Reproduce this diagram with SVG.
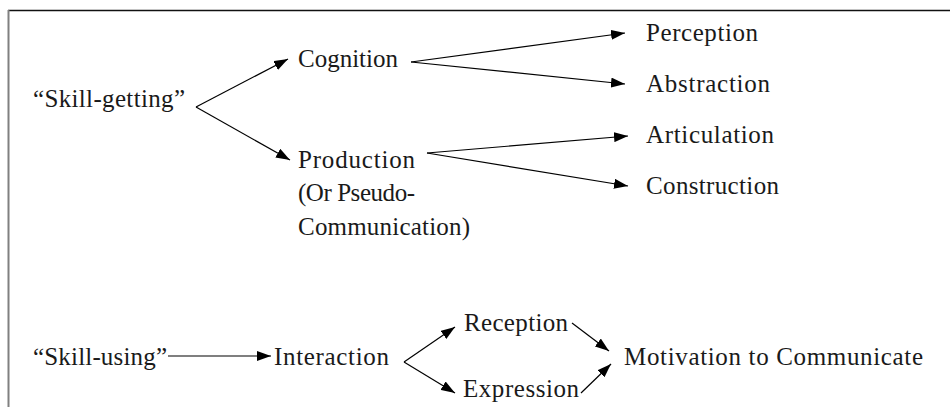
<svg xmlns="http://www.w3.org/2000/svg" width="950" height="407" viewBox="0 0 950 407">
<defs>
<style>
.t text{font-family:"Times New Roman",Tinos,"Liberation Serif",serif;font-size:25px;fill:#1a1a1a}
.c{stroke:#000;stroke-width:1.2;fill:none;marker-end:url(#ah)}
</style>
<marker id="ah" viewBox="0 0 14 10" refX="14" refY="5" markerWidth="14" markerHeight="10" markerUnits="userSpaceOnUse" orient="auto">
<path d="M0,0 L14,5 L0,10 z" fill="#000"/>
</marker>
</defs>
<rect width="950" height="407" fill="#fff"/>
<line x1="8" y1="10.5" x2="950" y2="10.5" stroke="#111" stroke-width="1.5"/>
<line x1="8.5" y1="10" x2="8.5" y2="407" stroke="#808080" stroke-width="2"/>
<g id="connectors">
<path class="c" d="M196,107 L288,59"/>
<path class="c" d="M196,107 L290,160"/>
<path class="c" d="M411,62 L625,33"/>
<path class="c" d="M411,62 L625,84"/>
<path class="c" d="M427,153 L628,136"/>
<path class="c" d="M427,153 L628,186"/>
<path class="c" d="M168,356 L271,356"/>
<path class="c" d="M404,362 L455,327"/>
<path class="c" d="M404,362 L455,393"/>
<path class="c" d="M572,323 L609,351"/>
<path class="c" d="M581,393 L611,364"/>
</g>
<g class="t">
<g id="skill-getting"><text x="33" y="107" textLength="152" lengthAdjust="spacing">“Skill-getting”</text></g>
<g id="cognition"><text x="298" y="67" textLength="100" lengthAdjust="spacing">Cognition</text></g>
<g id="production"><text x="298" y="168" textLength="117" lengthAdjust="spacing">Production</text><text x="298" y="201" textLength="117" lengthAdjust="spacing">(Or Pseudo-</text><text x="298" y="235" textLength="172" lengthAdjust="spacing">Communication)</text></g>
<g id="perception"><text x="646" y="41" textLength="112" lengthAdjust="spacing">Perception</text></g>
<g id="abstraction"><text x="646" y="92" textLength="124" lengthAdjust="spacing">Abstraction</text></g>
<g id="articulation"><text x="646" y="143" textLength="128" lengthAdjust="spacing">Articulation</text></g>
<g id="construction"><text x="646" y="194" textLength="133" lengthAdjust="spacing">Construction</text></g>
<g id="skill-using"><text x="33" y="365" textLength="134" lengthAdjust="spacing">“Skill-using”</text></g>
<g id="interaction"><text x="274" y="365" textLength="115" lengthAdjust="spacing">Interaction</text></g>
<g id="reception"><text x="464" y="331" textLength="104" lengthAdjust="spacing">Reception</text></g>
<g id="expression"><text x="463" y="397" textLength="116" lengthAdjust="spacing">Expression</text></g>
<g id="motivation"><text x="624" y="365" textLength="299" lengthAdjust="spacing">Motivation to Communicate</text></g>
</g>
</svg>
